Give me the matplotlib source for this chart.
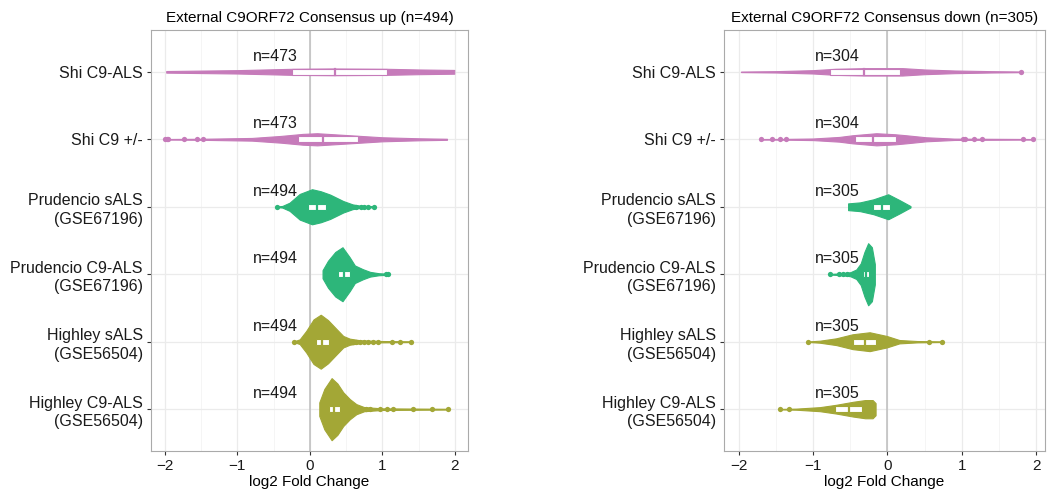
import numpy as np
import matplotlib
matplotlib.use('Agg')
import matplotlib.pyplot as plt
from matplotlib.patches import Rectangle

plt.rcParams['font.family'] = ['Liberation Sans', 'DejaVu Sans']

labels = ['Shi C9-ALS', 'Shi C9 +/-', 'Prudencio sALS\n(GSE67196)',
          'Prudencio C9-ALS\n(GSE67196)', 'Highley sALS\n(GSE56504)',
          'Highley C9-ALS\n(GSE56504)']
pink = '#C67BBA'
green = '#2DB67A'
olive = '#A3A736'
colors = [pink, pink, green, green, olive, olive]

# ---- up panel ----
up_title = 'External C9ORF72 Consensus up (n=494)'
up_n = [473, 473, 494, 494, 494, 494]
up_prof_x = [
    [-1.98, -1.0, -0.5, -0.24, 0.3, 1.06, 1.5, 1.99],
    [-2.0, -1.48, -0.8, -0.4, -0.1, 0.1, 0.4, 0.7, 1.0, 1.5, 1.89],
    [-0.45, -0.38, -0.28, -0.14, 0.03, 0.15, 0.28, 0.46, 0.59, 0.7, 0.88],
    [0.175, 0.25, 0.35, 0.45, 0.55, 0.62, 0.73, 0.83, 0.95, 1.08],
    [-0.22, -0.14, -0.05, 0.05, 0.15, 0.25, 0.37, 0.46, 0.55, 0.7, 1.0, 1.40],
    [0.13, 0.2, 0.30, 0.38, 0.46, 0.55, 0.64, 0.75, 1.0, 1.9],
]
up_prof_w = [
    [0.012, 0.025, 0.038, 0.045, 0.05, 0.045, 0.035, 0.028],
    [0.004, 0.008, 0.02, 0.05, 0.08, 0.09, 0.07, 0.05, 0.03, 0.015, 0.008],
    [0.005, 0.012, 0.06, 0.19, 0.26, 0.23, 0.18, 0.085, 0.035, 0.015, 0.008],
    [0.06, 0.2, 0.33, 0.40, 0.25, 0.13, 0.075, 0.035, 0.015, 0.008],
    [0.005, 0.035, 0.16, 0.33, 0.40, 0.32, 0.185, 0.085, 0.045, 0.02, 0.01, 0.006],
    [0.10, 0.3, 0.46, 0.38, 0.25, 0.15, 0.075, 0.03, 0.012, 0.006],
]
up_q1 = [-0.24, -0.17, -0.03, 0.39, 0.09, 0.26]
up_med = [0.35, 0.18, 0.105, 0.47, 0.17, 0.33]
up_q3 = [1.06, 0.67, 0.22, 0.55, 0.27, 0.41]
up_out = [
    [],
    [-2.0, -1.97, -1.95, -1.73, -1.55, -1.48],
    [-0.45, 0.64, 0.71, 0.75, 0.80, 0.88],
    [1.05, 1.08],
    [-0.22, 0.60, 0.64, 0.69, 0.74, 0.80, 0.87, 0.94, 1.13, 1.24, 1.40],
    [0.69, 0.78, 0.83, 0.97, 1.06, 1.15, 1.42, 1.68, 1.90],
]

# ---- down panel ----
down_title = 'External C9ORF72 Consensus down (n=305)'
down_n = [304, 304, 305, 305, 305, 305]
down_prof_x = [
    [-1.97, -1.5, -1.0, -0.7, -0.3, 0.2, 0.5, 0.9, 1.4, 1.80],
    [-1.70, -1.37, -1.0, -0.65, -0.47, -0.15, 0.1, 0.25, 0.52, 0.9, 1.96],
    [-0.53, -0.37, -0.19, 0.01, 0.16, 0.31],
    [-0.77, -0.6, -0.5, -0.42, -0.36, -0.31, -0.26, -0.21, -0.17],
    [-1.07, -0.91, -0.69, -0.47, -0.24, -0.01, 0.16, 0.4, 0.74],
    [-1.44, -1.23, -0.91, -0.69, -0.46, -0.3, -0.2, -0.16],
]
down_prof_w = [
    [0.004, 0.01, 0.025, 0.045, 0.055, 0.055, 0.035, 0.02, 0.01, 0.005],
    [0.004, 0.006, 0.012, 0.035, 0.06, 0.09, 0.075, 0.06, 0.03, 0.01, 0.004],
    [0.05, 0.065, 0.11, 0.185, 0.10, 0.01],
    [0.005, 0.015, 0.03, 0.07, 0.16, 0.33, 0.46, 0.40, 0.15],
    [0.004, 0.015, 0.05, 0.11, 0.14, 0.085, 0.025, 0.01, 0.005],
    [0.004, 0.008, 0.03, 0.065, 0.11, 0.135, 0.135, 0.09],
]
down_q1 = [-0.78, -0.44, -0.20, -0.33, -0.47, -0.70]
down_med = [-0.31, -0.19, -0.07, -0.29, -0.30, -0.52]
down_q3 = [0.17, 0.12, 0.03, -0.25, -0.16, -0.34]
down_out = [
    [1.80],
    [-1.70, -1.56, -1.44, -1.37, 1.02, 1.05, 1.17, 1.27, 1.83, 1.96],
    [],
    [-0.77, -0.65, -0.60, -0.55],
    [-1.07, 0.56, 0.74],
    [-1.44, -1.33],
]


def panel(ax, title, n, px, pw, q1, med, q3, outs, xlim, nx):
    ax.set_xlim(xlim)
    ax.set_ylim(6.62, 0.38)
    ax.set_xticks([-2, -1, 0, 1, 2])
    ax.set_xticks([-1.5, -0.5, 0.5, 1.5], minor=True)
    ax.set_yticks(range(1, 7))
    ax.set_yticklabels(labels, multialignment='right', linespacing=1.3, fontsize=11.5)
    ax.grid(True, which='major', color='#EBEBEB', lw=0.9)
    ax.grid(True, which='minor', axis='x', color='#F4F4F4', lw=0.6)
    ax.set_axisbelow(True)
    ax.axvline(0, color='#BDBDBD', lw=1.1, zorder=1)
    for i in range(6):
        y = i + 1
        c = colors[i]
        xs = np.array(px[i])
        ws = np.array(pw[i])
        ax.fill_between(xs, y - ws, y + ws, color=c, edgecolor=c, lw=0.8, zorder=2)
        if outs[i]:
            ax.plot(outs[i], [y] * len(outs[i]), 'o', color=c, ms=3.8, mew=0, zorder=3)
        h = 0.045
        ax.add_patch(Rectangle((q1[i], y - h), q3[i] - q1[i], 2 * h,
                               fc='white', ec=c, lw=0.8, zorder=4))
        ax.plot([med[i], med[i]], [y - h, y + h], color=c, lw=1.6, zorder=5)
        ax.text(nx, y - 0.12, 'n=%d' % n[i], ha='center', va='bottom', fontsize=11.5, color='#1a1a1a')
    ax.set_title(title, fontsize=11, pad=6)
    ax.set_xlabel('log2 Fold Change', fontsize=11, labelpad=1)
    for s in ax.spines.values():
        s.set_color('#AAAAAA')
        s.set_linewidth(0.8)
    ax.tick_params(which='major', length=3, color='#333333', labelcolor='#1a1a1a', pad=3)
    ax.tick_params(axis='x', labelsize=11)
    ax.tick_params(which='minor', length=0)


fig = plt.figure(figsize=(10.49, 4.95), dpi=100)
ax1 = fig.add_axes([151 / 1049, 1 - 451 / 495, 317 / 1049, 421 / 495])
ax2 = fig.add_axes([724 / 1049, 1 - 451 / 495, 321 / 1049, 421 / 495])
panel(ax1, up_title, up_n, up_prof_x, up_prof_w, up_q1, up_med, up_q3, up_out, (-2.19, 2.18), -0.47)
panel(ax2, down_title, down_n, down_prof_x, down_prof_w, down_q1, down_med, down_q3, down_out, (-2.2, 2.12), -0.67)

fig.savefig('out.png', dpi=100)
